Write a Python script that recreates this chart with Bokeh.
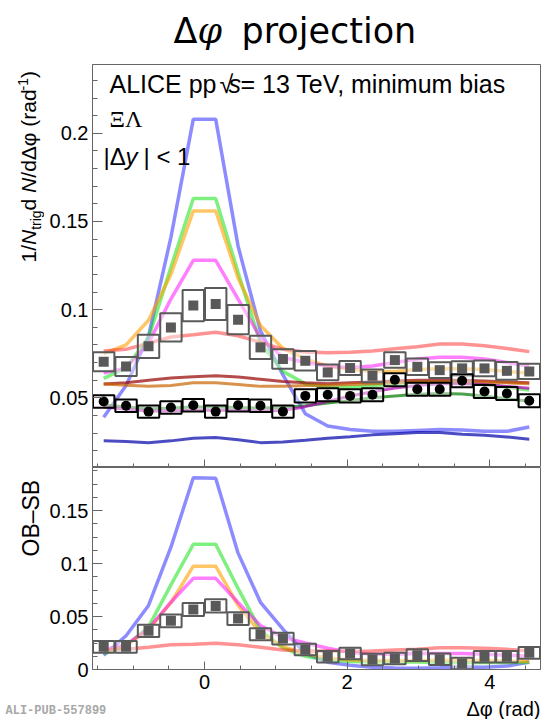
import numpy as np
from bokeh.plotting import figure
from bokeh.layouts import column, row
from bokeh.models import Label, FixedTicker, Range1d, ColumnDataSource, CustomJSTickFormatter
from bokeh.embed import file_html
from bokeh.resources import INLINE

# ---------------- data ----------------
dphi = [-1.414, -1.100, -0.785, -0.471, -0.157, 0.157, 0.471, 0.785, 1.100, 1.414,
        1.728, 2.042, 2.356, 2.670, 2.985, 3.299, 3.613, 3.927, 4.241, 4.555]
bin_width = 0.30

# opposite-baryon (grey squares) and same-baryon (black circles)
ob = [0.0705, 0.0678, 0.0792, 0.0899, 0.1023, 0.1032, 0.0943, 0.0786, 0.0720, 0.0710,
      0.0644, 0.0669, 0.0625, 0.0714, 0.0676, 0.0657, 0.0667, 0.0667, 0.0653, 0.0650]
ob_sys = [0.0054, 0.0054, 0.0066, 0.0080, 0.0089, 0.0091, 0.0083, 0.0066, 0.0055, 0.0055,
          0.0045, 0.0040, 0.0036, 0.0044, 0.0047, 0.0045, 0.0040, 0.0045, 0.0050, 0.0043]
sb = [0.0479, 0.0455, 0.0422, 0.0445, 0.0458, 0.0422, 0.0458, 0.0455, 0.0422, 0.0511,
      0.0517, 0.0511, 0.0517, 0.0602, 0.0549, 0.0549, 0.0597, 0.0536, 0.0525, 0.0483]
sb_sys = [0.0035, 0.0035, 0.0035, 0.0035, 0.0035, 0.0035, 0.0035, 0.0035, 0.0035, 0.0037,
          0.0037, 0.0037, 0.0037, 0.0037, 0.0037, 0.0037, 0.0037, 0.0037, 0.0037, 0.0037]
diff = [0.0214, 0.0214, 0.0365, 0.0459, 0.0566, 0.0600, 0.0481, 0.0333, 0.0292, 0.0189,
        0.0120, 0.0151, 0.0094, 0.0104, 0.0135, 0.0097, 0.0057, 0.0120, 0.0120, 0.0157]
diff_sys = [0.0055, 0.0055, 0.0058, 0.0060, 0.0062, 0.0062, 0.0060, 0.0057, 0.0055, 0.0055,
            0.0055, 0.0055, 0.0055, 0.0055, 0.0055, 0.0055, 0.0055, 0.0055, 0.0055, 0.0055]

# model curves, opposite-baryon (light colours)
blue_ob = [0.039, 0.057, 0.085, 0.141, 0.208, 0.208, 0.136, 0.088, 0.063, 0.041,
           0.034, 0.032, 0.031, 0.031, 0.0315, 0.032, 0.0318, 0.031, 0.031, 0.0335]
green_ob = [0.061, 0.067, 0.084, 0.124, 0.163, 0.163, 0.121, 0.081, 0.065, 0.058,
            0.056, 0.056, 0.057, 0.058, 0.059, 0.059, 0.0585, 0.0575, 0.056, 0.0545]
orange_ob = [0.075, 0.080, 0.094, 0.120, 0.156, 0.156, 0.118, 0.091, 0.078, 0.072,
             0.068, 0.066, 0.065, 0.065, 0.066, 0.0665, 0.0665, 0.066, 0.065, 0.064]
magenta_ob = [0.064, 0.067, 0.081, 0.106, 0.128, 0.128, 0.106, 0.084, 0.073, 0.070,
              0.068, 0.067, 0.068, 0.070, 0.072, 0.073, 0.073, 0.072, 0.070, 0.068]
red_ob = [0.0765, 0.0775, 0.081, 0.0845, 0.0858, 0.0872, 0.0852, 0.0815, 0.0775, 0.076,
          0.0755, 0.0758, 0.0765, 0.0778, 0.079, 0.0805, 0.0805, 0.0795, 0.078, 0.0762]

# model curves, same-baryon (dark colours)
blue_sb = [0.0256, 0.0252, 0.0246, 0.0256, 0.0271, 0.0275, 0.0262, 0.0246, 0.0250, 0.0259,
           0.0271, 0.0280, 0.0290, 0.0297, 0.0303, 0.0303, 0.0294, 0.0288, 0.0278, 0.0265]
green_sb = [0.0460, 0.0448, 0.0438, 0.0442, 0.0448, 0.0448, 0.0445, 0.0442, 0.0445, 0.0455,
            0.0470, 0.0485, 0.0500, 0.0510, 0.0520, 0.0525, 0.0522, 0.0510, 0.0495, 0.0480]
orange_sb = [0.0578, 0.0572, 0.0565, 0.0570, 0.0585, 0.0585, 0.0575, 0.0565, 0.0565, 0.0570,
             0.0572, 0.0575, 0.0580, 0.0585, 0.0590, 0.0590, 0.0590, 0.0588, 0.0585, 0.0580]
magenta_sb = [0.0450, 0.0435, 0.0425, 0.0425, 0.0430, 0.0430, 0.0428, 0.0425, 0.0428, 0.0450,
              0.0480, 0.0510, 0.0535, 0.0555, 0.0570, 0.0580, 0.0580, 0.0575, 0.0565, 0.0555]
red_sb = [0.0578, 0.0585, 0.0600, 0.0612, 0.0620, 0.0625, 0.0618, 0.0605, 0.0592, 0.0585,
          0.0580, 0.0585, 0.0590, 0.0595, 0.0600, 0.0600, 0.0600, 0.0595, 0.0590, 0.0585]

# model curves, OB - SB
blue_d = [0.0134, 0.0318, 0.0604, 0.1154, 0.1809, 0.1805, 0.1098, 0.0634, 0.0380, 0.0151,
          0.0069, 0.0040, 0.0020, 0.0013, 0.0012, 0.0017, 0.0024, 0.0022, 0.0032, 0.0070]
green_d = [0.0150, 0.0222, 0.0402, 0.0798, 0.1182, 0.1182, 0.0765, 0.0368, 0.0205, 0.0125,
           0.0090, 0.0075, 0.0070, 0.0070, 0.0070, 0.0065, 0.0063, 0.0065, 0.0065, 0.0065]
orange_d = [0.0172, 0.0228, 0.0375, 0.0630, 0.0975, 0.0975, 0.0605, 0.0345, 0.0215, 0.0150,
            0.0108, 0.0090, 0.0085, 0.0085, 0.0085, 0.0088, 0.0088, 0.0085, 0.0080, 0.0075]
magenta_d = [0.0190, 0.0235, 0.0385, 0.0635, 0.0860, 0.0860, 0.0632, 0.0415, 0.0302, 0.0250,
             0.0200, 0.0160, 0.0145, 0.0145, 0.0150, 0.0150, 0.0150, 0.0145, 0.0135, 0.0125]
red_d = [0.0187, 0.0190, 0.0210, 0.0233, 0.0238, 0.0247, 0.0234, 0.0210, 0.0183, 0.0175,
         0.0175, 0.0173, 0.0175, 0.0183, 0.0190, 0.0205, 0.0205, 0.0200, 0.0190, 0.0177]

x_major = [0, 2, 4]
x_minor = [-1.5, -1, -0.5, 0.5, 1, 1.5, 2.5, 3, 3.5, 4.5]
top_major = [0.05, 0.1, 0.15, 0.2]
top_minor = [round(0.01 * i, 2) for i in range(2, 24)]
bot_major = [0, 0.05, 0.1, 0.15]
bot_minor = [0.0125 * i for i in range(1, 16)]

# ---------------- styles ----------------
LIGHT = {"blue": ("#0000ff", 0.45), "green": ("#00e000", 0.5), "orange": ("#ffa000", 0.6),
         "magenta": ("#ff00ff", 0.5), "red": ("#ff1010", 0.45)}
DARK = {"blue": ("#0000a8", 0.7), "green": ("#007a00", 0.7), "orange": ("#c86400", 0.7),
        "magenta": ("#b400b4", 0.7), "red": ("#960000", 0.7)}
AX = "#666666"
FONT = "Liberation Sans"

X0, X1 = -np.pi / 2, 3 * np.pi / 2

# page layout (pixels)
PAGE_W = 542
TITLE_H = 64          # frame top of upper panel
YLAB_W = 44           # width of the strip holding the rotated axis titles
TOP_H = 403           # upper frame height
BOT_FRAME_H = 202     # lower frame height
BOT_AXIS_H = 28       # space for the lower x tick labels
BOT_H = BOT_FRAME_H + BOT_AXIS_H
XLAB_H = 719 - TITLE_H - TOP_H - BOT_H


def style_axes(p, xt_maj, xt_min, yt_maj, yt_min, show_x_labels):
    p.grid.visible = False
    p.outline_line_color = AX
    p.outline_line_width = 1
    for ax in p.xaxis + p.yaxis:
        ax.axis_line_color = AX
        ax.major_tick_line_color = AX
        ax.minor_tick_line_color = AX
        ax.major_tick_out = 0
        ax.minor_tick_out = 0
        ax.major_label_text_font = FONT
        ax.major_label_text_font_size = "20px"
        ax.major_label_text_color = "black"
        ax.formatter = CustomJSTickFormatter(code="return tick.toString();")
    p.yaxis.ticker = FixedTicker(ticks=yt_maj, minor_ticks=yt_min)
    p.yaxis.major_tick_in = 10
    p.yaxis.minor_tick_in = 5
    p.yaxis.major_label_standoff = 4
    p.xaxis.ticker = FixedTicker(ticks=xt_maj, minor_ticks=xt_min)
    p.xaxis.major_tick_in = 8
    p.xaxis.minor_tick_in = 4
    if show_x_labels:
        p.xaxis.major_label_standoff = 5
    else:
        p.xaxis.formatter = CustomJSTickFormatter(code="return '';")
        p.xaxis.major_label_text_font_size = "0px"
        p.xaxis.major_label_standoff = 0


def text_strip(width, height):
    """A bare figure whose whole canvas is its frame, used to hold text."""
    f = figure(width=width, height=height, x_range=Range1d(0, 1), y_range=Range1d(0, 1),
               x_axis_type=None, y_axis_type=None, output_backend="svg", title=None,
               toolbar_location=None, min_border=0, min_border_left=0, min_border_right=0,
               min_border_top=0, min_border_bottom=0)
    f.outline_line_color = None
    f.grid.visible = False
    return f


def label(p, x, y, txt, font=FONT, size="24px", style="normal", angle=0.0, align="left",
          color="black"):
    # screen units: pixels from the frame's bottom-left corner, y upwards
    p.add_layout(Label(x=x, y=y, x_units="screen", y_units="screen", text=txt,
                       text_font=font, text_font_size=size, text_font_style=style,
                       angle=angle, text_align=align, text_baseline="alphabetic",
                       text_color=color))


# ---------------- title strip ----------------
title = text_strip(PAGE_W, TITLE_H)
label(title, 173, 34, "Δ", font="DejaVu Sans", size="35px")
label(title, 197, 34, "φ", font="DejaVu Serif", size="35px", style="italic")
label(title, 241, 34, "projection", font="DejaVu Sans", size="35px")

# ---------------- top panel ----------------
top = figure(width=PAGE_W - YLAB_W, height=TOP_H, x_range=Range1d(X0, X1),
             y_range=Range1d(0.0105, 0.239), output_backend="svg", toolbar_location=None,
             min_border_left=92 - YLAB_W, min_border_right=2, min_border_top=0,
             min_border_bottom=0)
style_axes(top, x_major, x_minor, top_major, top_minor, False)

for name, ys in [("blue", blue_ob), ("green", green_ob), ("orange", orange_ob),
                 ("magenta", magenta_ob), ("red", red_ob)]:
    c, a = LIGHT[name]
    top.line(dphi, ys, line_color=c, line_alpha=a, line_width=3.5)
for name, ys in [("blue", blue_sb), ("red", red_sb), ("orange", orange_sb),
                 ("green", green_sb), ("magenta", magenta_sb)]:
    c, a = DARK[name]
    top.line(dphi, ys, line_color=c, line_alpha=a, line_width=3)

src_ob = ColumnDataSource(dict(x=dphi, y=ob, h=[2 * s for s in ob_sys]))
src_sb = ColumnDataSource(dict(x=dphi, y=sb, h=[2 * s for s in sb_sys]))
top.rect("x", "y", width=bin_width, height="h", source=src_ob, fill_color="white",
         fill_alpha=0.45, line_color="#5a5a5a", line_width=2)
top.rect("x", "y", width=bin_width, height="h", source=src_sb, fill_color="white",
         fill_alpha=0.45, line_color="black", line_width=2)
top.scatter("x", "y", source=src_ob, marker="square", size=10, fill_color="#595959",
            line_color=None)
top.scatter("x", "y", source=src_sb, marker="circle", size=10, fill_color="black",
            line_color=None)

for x, txt, style in [(17, "ALICE pp", "normal"), (127, "√", "normal"), (136, "s", "italic"),
                      (148, "= 13 TeV, minimum bias", "normal")]:
    label(top, x, 384, txt, style=style, size="25px")
label(top, 17, 349, "ΞΛ", font="Liberation Serif")
for x, txt, style in [(11, "|Δ", "normal"), (33, "y", "italic"), (51, "| < 1", "normal")]:
    label(top, x, 311, txt, style=style)

# ---------------- bottom panel ----------------
bot = figure(width=PAGE_W - YLAB_W, height=BOT_H, x_range=top.x_range,
             y_range=Range1d(0, 0.1906), output_backend="svg", toolbar_location=None,
             min_border_left=92 - YLAB_W, min_border_right=2, min_border_top=0,
             min_border_bottom=BOT_AXIS_H)
style_axes(bot, x_major, x_minor, bot_major, bot_minor, True)

for name, ys in [("blue", blue_d), ("green", green_d), ("orange", orange_d),
                 ("magenta", magenta_d), ("red", red_d)]:
    c, a = LIGHT[name]
    bot.line(dphi, ys, line_color=c, line_alpha=a, line_width=3.5)

src_d = ColumnDataSource(dict(x=dphi, y=diff, h=[2 * s for s in diff_sys]))
bot.rect("x", "y", width=bin_width, height="h", source=src_d, fill_color="white",
         fill_alpha=0.45, line_color="#5a5a5a", line_width=2)
bot.scatter("x", "y", source=src_d, marker="square", size=10, fill_color="#595959",
            line_color=None)

# ---------------- rotated axis titles (one tall strip left of both panels) ----------------
ylab = text_strip(YLAB_W, TOP_H + BOT_H)
for y, x, txt, style, fs in [(205.0, 28, "1/", "normal", "21px"),
                             (222.5, 28, "N", "italic", "21px"),
                             (237.7, 35, "trig", "normal", "14px"),
                             (257.1, 28, " d", "normal", "21px"),
                             (274.6, 28, "N", "italic", "21px"),
                             (289.8, 28, "/dΔφ (rad", "normal", "21px"),
                             (377.1, 22, "-1", "normal", "14px"),
                             (389.5, 28, ")", "normal", "21px")]:
    label(ylab, x, BOT_H + y, txt, style=style, size=fs, angle=np.pi / 2)
label(ylab, 30, 141, "OB–SB", size="23px", angle=np.pi / 2)

# ---------------- x-axis title strip ----------------
xlab = text_strip(PAGE_W, XLAB_H)
label(xlab, 540, 11, "Δφ (rad)", size="20px", align="right")
label(xlab, 5, 9, "ALI-PUB-557899", font="Liberation Mono", size="12px",
      style="bold", color="#a8a8a8")

layout = column(title, row(ylab, column(top, bot, spacing=0), spacing=0), xlab, spacing=0)
open("out.html", "w").write(file_html(layout, INLINE))
